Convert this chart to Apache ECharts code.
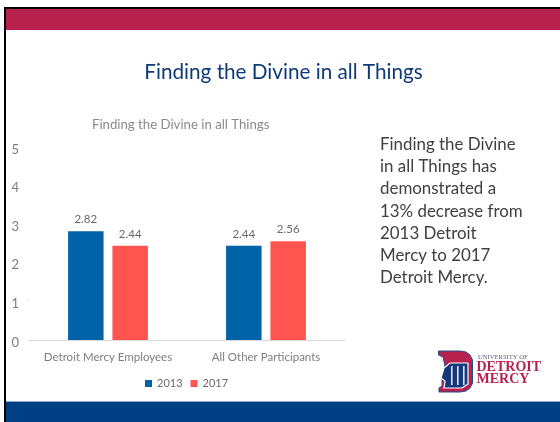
<!DOCTYPE html>
<html>
<head>
<meta charset="utf-8">
<style>html,body{margin:0;padding:0;background:#fff}#c{width:560px;height:422px}</style>
<script src="https://cdn.jsdelivr.net/npm/echarts@6/dist/echarts.min.js"></script>
</head>
<body>
<div id="c"></div>
<script>
const categories = ['Detroit Mercy Employees', 'All Other Participants'];
const values2013 = [2.82, 2.44];
const values2017 = [2.44, 2.56];
const seriesNames = ['2013', '2017'];
const slideTitle = 'Finding the Divine in all Things';
const chartTitle = 'Finding the Divine in all Things';
const bodyLines = ['Finding the Divine', 'in all Things has', 'demonstrated a', '13% decrease from', '2013 Detroit', 'Mercy to 2017', 'Detroit Mercy.'];

const font = 'Lato, "Open Sans", sans-serif';
const chart = echarts.init(document.getElementById('c'), null, {renderer: 'canvas'});
const labelStyle = {show: true, position: 'top', distance: 6, color: '#6b6b6b', fontSize: 11.5, fontFamily: font, formatter: p => p.value.toFixed(2)};

const deco = [
  {type: 'rect', z: 1, shape: {x: 4, y: 7, width: 556, height: 2}, style: {fill: '#000'}},
  {type: 'rect', z: 1, shape: {x: 4, y: 7, width: 2, height: 415}, style: {fill: '#000'}},
  {type: 'rect', z: 1, shape: {x: 6, y: 9, width: 554, height: 21}, style: {fill: '#B8204E'}},
  {type: 'rect', z: 1, shape: {x: 6, y: 401, width: 554, height: 21}, style: {fill: '#003F83'}},
  {type: 'rect', z: 1, shape: {x: 6, y: 401, width: 554, height: 1}, style: {fill: '#8FA8C8'}},
  {type: 'text', z: 2, style: {x: 283.5, y: 72, text: slideTitle, align: 'center', verticalAlign: 'middle', fill: '#0F3A7A', font: '20.7px ' + font}},
  // logo
  {type: 'polygon', z: 2, shape: {points: [[438.5,351],[460,351],[466,352],[470,355],[472.5,360],[472.5,383],[470,388],[466,391],[460,392],[439,392],[439,388],[442,386],[442,380],[445,366],[443,357],[438.5,355]]}, style: {fill: '#B8204E', stroke: '#1F4E8C', lineWidth: 1}},
  {type: 'polygon', z: 3, shape: {points: [[441,378],[444,368],[450,363],[468,363],[468,384],[462,388],[444,388],[445,381]]}, style: {fill: '#14397A', stroke: '#fff', lineWidth: 1.2}},
  {type: 'rect', z: 4, shape: {x: 451, y: 366, width: 1.6, height: 19}, style: {fill: '#dfe6f0'}},
  {type: 'rect', z: 4, shape: {x: 457, y: 366, width: 1.6, height: 19}, style: {fill: '#dfe6f0'}},
  {type: 'rect', z: 4, shape: {x: 463, y: 366, width: 1.6, height: 19}, style: {fill: '#dfe6f0'}},
  {type: 'rect', z: 1, shape: {x: 27, y: 299, width: 2, height: 2}, style: {fill: '#eeeeee'}},
  {type: 'text', z: 2, style: {x: 478, y: 357.5, text: 'UNIVERSITY OF', align: 'left', verticalAlign: 'middle', fill: '#5A6478', font: '6.6px "Liberation Serif"'}},
  {type: 'text', z: 2, style: {x: 476.5, y: 367.5, text: 'DETROIT', align: 'left', verticalAlign: 'middle', fill: '#B8204E', font: 'bold 14px "Liberation Serif"'}},
  {type: 'text', z: 2, style: {x: 476.5, y: 379, text: 'MERCY', align: 'left', verticalAlign: 'middle', fill: '#B8204E', font: 'bold 14px "Liberation Serif"'}}
];
bodyLines.forEach((t, i) => deco.push({type: 'text', z: 2, style: {x: 380, y: 144.5 + i * 22.2, text: t, align: 'left', verticalAlign: 'middle', fill: '#404040', font: '16.9px ' + font}}));

chart.setOption({
  animation: false,
  backgroundColor: '#fff',
  title: {text: chartTitle, left: 92, top: 118.5, padding: 0, textStyle: {color: '#8a8a8a', fontSize: 13.2, fontWeight: 'normal', fontFamily: font}},
  legend: {data: seriesNames, left: 145, top: 378, padding: 0, itemWidth: 7, itemHeight: 7, itemGap: 8, icon: 'rect', textStyle: {color: '#6b6b6b', fontSize: 11, fontFamily: font}},
  grid: {left: 29, right: 215, top: 147, bottom: 82},
  xAxis: {type: 'category', data: categories, axisTick: {show: false}, axisLine: {lineStyle: {color: '#DADADA'}}, axisLabel: {interval: 0, color: '#7d7d7d', fontSize: 11.5, fontFamily: font, margin: 11}},
  yAxis: {type: 'value', min: 0, max: 5, interval: 1, splitLine: {show: false}, axisLine: {show: false}, axisTick: {show: false}, axisLabel: {color: '#7d7d7d', fontSize: 13, fontFamily: font, margin: 10, verticalAlign: 'top', lineHeight: 5}},
  series: [
    {name: seriesNames[0], type: 'bar', data: values2013, barWidth: 35.5, barGap: '25%', itemStyle: {color: '#0063A8'}, label: labelStyle},
    {name: seriesNames[1], type: 'bar', data: values2017, barWidth: 35.5, barGap: '25%', itemStyle: {color: '#FF5450'}, label: labelStyle}
  ],
  graphic: {elements: deco}
});
</script>
</body>
</html>
